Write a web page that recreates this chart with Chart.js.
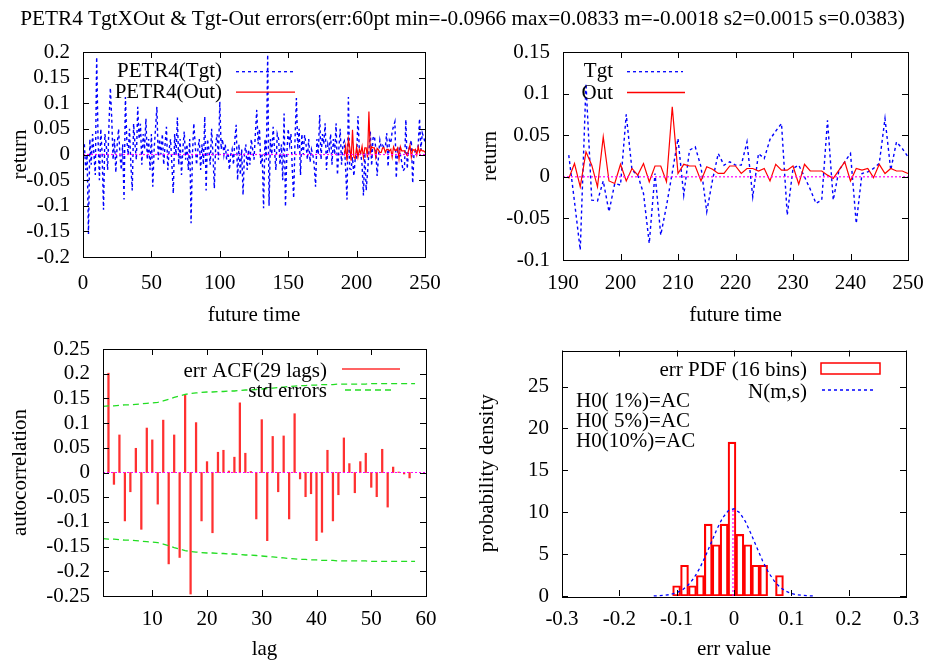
<!DOCTYPE html>
<html><head><meta charset="utf-8">
<script src="https://cdn.jsdelivr.net/npm/chart.js@4.4.1/dist/chart.umd.min.js"></script>
<style>
html,body{margin:0;padding:0;background:#fff;}
body{width:925px;height:660px;position:relative;overflow:hidden;font-family:"Liberation Serif","Times New Roman",serif;}
#title{position:absolute;left:0;top:8px;width:925px;text-align:center;white-space:nowrap;line-height:1;z-index:5;}
#title span{font-size:20px;display:inline-block;}
canvas{position:absolute;}
</style></head><body>
<div id="title"><span id="tt"></span></div>
<canvas id="c1"></canvas><canvas id="c2"></canvas><canvas id="c3"></canvas><canvas id="c4"></canvas>
<script>
const mainTitle = "PETR4 TgtXOut & Tgt-Out errors(err:60pt min=-0.0966 max=0.0833 m=-0.0018 s2=0.0015 s=0.0383)";

// ---- top panels: target and output returns ----
const tgtStart = 1;
const tgt = [
 0.02,-0.03,0.0,-0.155,0.03,-0.02,0.04,0.0,-0.04,0.19,
 0.03,-0.05,0.05,0.0,-0.108,0.04,0.02,-0.03,0.06,0.13,
 0.07,-0.01,0.03,-0.035,0.02,0.05,0.0,-0.03,0.02,-0.088,
 0.112,0.03,0.0,0.05,-0.02,-0.07,0.06,0.02,-0.01,0.093,
 0.03,0.06,-0.02,0.04,0.01,0.07,-0.01,0.03,-0.03,0.04,
 -0.063,0.01,0.05,0.093,-0.01,0.03,0.0,0.04,-0.02,0.02,
 0.054,-0.03,0.01,0.03,-0.02,-0.076,0.04,0.0,0.072,-0.02,
 0.03,-0.04,0.01,0.045,-0.01,0.02,-0.03,0.03,-0.134,0.0,
 0.061,0.02,-0.02,0.01,0.03,-0.03,0.02,-0.02,0.074,-0.07,
 0.03,0.01,-0.02,0.05,0.0,-0.066,0.02,0.04,-0.01,0.103,
 0.01,0.03,0.0,0.02,-0.01,0.01,-0.03,0.0,0.01,-0.02,
 0.03,0.058,-0.05,0.02,-0.04,0.01,-0.079,0.0,0.02,-0.03,
 0.01,-0.02,0.03,0.01,-0.01,0.04,0.087,0.02,0.05,-0.02,
 0.0,-0.105,0.03,-0.01,0.195,-0.1,0.03,0.0,0.054,0.01,
 -0.03,0.04,0.03,-0.02,0.02,-0.05,0.08,-0.102,0.0,0.05,
 0.02,0.04,-0.03,-0.085,0.03,0.11,0.01,0.05,-0.04,0.04,
 0.0,0.038,0.02,-0.01,0.03,-0.015,0.01,0.0,-0.02,-0.063,
 0.03,0.0,0.077,-0.01,0.04,0.02,0.061,-0.03,0.02,0.01,
 0.04,-0.02,0.03,0.0,0.061,-0.04,0.01,0.05,-0.02,0.02,
 0.026,-0.03,-0.088,0.112,-0.028,-0.029,-0.005,-0.042,-0.008,-0.01,
 0.075,0.008,0.002,-0.02,-0.08,0.004,-0.07,-0.035,0.005,0.046,
 -0.022,0.032,0.036,0.012,-0.042,-0.004,0.028,0.014,0.018,0.014,
 0.014,0.042,-0.024,0.028,0.022,0.045,0.055,0.064,-0.046,0.01,
 0.014,0.0,-0.015,-0.032,-0.028,0.068,-0.028,0.008,0.018,0.028,
 -0.056,0.004,0.006,0.01,0.016,0.07,0.008,0.042,0.034,0.024
];
const outStart = 191;
const out = [
 -0.002,0.016,-0.012,0.030,0.014,-0.012,0.048,-0.005,-0.008,0.015,
 -0.005,0.010,0.002,0.016,-0.006,0.013,0.013,-0.006,0.084,0.004,
 0.015,0.013,0.013,-0.005,0.012,0.009,0.004,0.004,0.013,0.013,
 0.004,0.010,0.010,0.007,0.010,-0.005,0.015,0.008,0.008,0.013,
 -0.009,0.015,0.007,0.007,0.007,0.002,-0.002,0.008,0.018,-0.005,
 0.010,0.008,0.010,-0.001,0.015,0.004,0.010,0.007,0.007,0.004
];
const zeroSpanAll = [0, 250];
const zeroSpanRecent = [190, 250];
const xTicksAll = [0, 50, 100, 150, 200, 250];
const yTicksAll = [-0.2, -0.15, -0.1, -0.05, 0, 0.05, 0.1, 0.15, 0.2];
const xTicksRecent = [190, 200, 210, 220, 230, 240, 250];
const yTicksRecent = [-0.1, -0.05, 0, 0.05, 0.1, 0.15];

// ---- bottom-left: error autocorrelation ----
const acfStart = 2;
const acf = [
 0.201,-0.024,0.076,-0.098,-0.039,0.049,-0.115,0.090,0.066,-0.064,
 0.106,-0.185,0.076,-0.172,0.157,-0.246,0.101,-0.098,0.022,-0.122,
 0.041,0.045,0.003,0.031,0.141,0.039,0.002,-0.094,0.107,-0.138,
 0.073,-0.039,0.074,-0.094,0.119,-0.013,-0.049,-0.043,-0.138,-0.121,
 0.045,-0.098,-0.045,0.070,0.018,-0.041,0.022,0.039,-0.030,-0.049,
 0.047,-0.070,0.011,0.001,-0.003,-0.011
];
const seStart = 1;
const seUpper = [
 0.134,0.135,0.135,0.136,0.137,0.137,0.138,0.139,0.140,0.141,
 0.142,0.145,0.148,0.152,0.155,0.158,0.160,0.161,0.162,0.163,
 0.163,0.164,0.164,0.165,0.165,0.166,0.167,0.167,0.168,0.169,
 0.170,0.171,0.172,0.173,0.174,0.175,0.176,0.176,0.177,0.177,
 0.178,0.178,0.178,0.179,0.179,0.179,0.179,0.179,0.179,0.180,
 0.180,0.180,0.180,0.180,0.180,0.180,0.180,0.180
];
const seLower = [
 -0.134,-0.135,-0.135,-0.136,-0.137,-0.137,-0.138,-0.139,-0.140,-0.141,
 -0.142,-0.145,-0.148,-0.152,-0.155,-0.158,-0.160,-0.161,-0.162,-0.163,
 -0.163,-0.164,-0.164,-0.165,-0.165,-0.166,-0.167,-0.167,-0.168,-0.169,
 -0.170,-0.171,-0.172,-0.173,-0.174,-0.175,-0.176,-0.176,-0.177,-0.177,
 -0.178,-0.178,-0.178,-0.179,-0.179,-0.179,-0.179,-0.179,-0.179,-0.180,
 -0.180,-0.180,-0.180,-0.180,-0.180,-0.180,-0.180,-0.180
];
const acfZeroSpan = [1, 60];
const xTicksLag = [10, 20, 30, 40, 50, 60];
const yTicksAcf = [-0.25, -0.2, -0.15, -0.1, -0.05, 0, 0.05, 0.1, 0.15, 0.2, 0.25];

// ---- bottom-right: error histogram ----
const binCenters = [-0.1001,-0.0863,-0.0725,-0.0587,-0.0449,-0.0311,-0.0173,-0.0035,0.0103,0.0241,0.0379,0.0517,0.0655,0.0793];
const binDensity = [1.22,3.67,1.22,2.45,8.57,6.12,8.57,18.37,7.35,6.12,3.67,3.67,0,2.45];
const normX = [-0.14,-0.13,-0.12,-0.11,-0.10,-0.09,-0.08,-0.07,-0.06,-0.05,-0.04,-0.03,-0.02,-0.01,0.0,0.01,0.02,0.03,0.04,0.05,0.06,0.07,0.08,0.09,0.10,0.11,0.12,0.13,0.14];
const normY = [0.01,0.04,0.09,0.19,0.39,0.73,1.30,2.13,3.29,4.72,6.34,7.95,9.31,10.18,10.41,9.94,8.87,7.38,5.75,4.18,2.83,1.80,1.06,0.59,0.30,0.15,0.07,0.03,0.01];
const meanX = [-0.0018, -0.0018];
const meanY = [0, 10.41];
const xTicksErr = [-0.3, -0.2, -0.1, 0, 0.1, 0.2, 0.3];
const yTicksPdf = [0, 5, 10, 15, 20, 25];
const hypText = ["H0( 1%)=AC", "H0( 5%)=AC", "H0(10%)=AC"];

// ================= drawing =================
const FAMILY = "'Liberation Serif','Times New Roman',serif";
const FSIZE = 21;
const FONT = {family: FAMILY, size: FSIZE};
const FONT_CSS = FSIZE + "px " + FAMILY;

document.getElementById('tt').textContent = mainTitle;
(function fitTitle(){
  const s = document.getElementById('tt');
  const w = s.getBoundingClientRect().width;
  s.style.fontSize = (20 * 885 / w) + 'px';
})();

const pts = (xs, ys) => ys.map((y, i) => ({x: xs[i], y}));
const seq = (start, ys) => ys.map((y, i) => ({x: start + i, y}));
const fmt = v => String(+Number(v).toFixed(6));

function mkScale(o) {
  return {
    type: 'linear', position: o.pos, min: o.min, max: o.max, offset: false,
    grid: {display: false, drawTicks: false}, border: {display: false},
    ticks: {font: FONT, color: '#000', padding: o.tickPad, autoSkip: false, maxRotation: 0, minRotation: 0, callback: fmt},
    title: {display: true, text: o.title, font: {family: FAMILY, size: FSIZE, lineHeight: 1}, color: '#000', padding: o.titlePad},
    afterBuildTicks: s => { s.ticks = o.ticks.map(v => ({value: v})); },
    afterFit: s => { if (o.pos === 'left') s.width = o.size; else s.height = o.size; }
  };
}

const frame = {
  id: 'gpFrame',
  afterDatasetsDraw(chart) {
    const {ctx, chartArea: a, scales: {x, y}} = chart;
    const L = 6;
    ctx.save();
    ctx.strokeStyle = '#000'; ctx.lineWidth = 1;
    ctx.beginPath();
    x.ticks.forEach(t => { const p = Math.round(x.getPixelForValue(t.value)) + 0.5;
      ctx.moveTo(p, a.bottom); ctx.lineTo(p, a.bottom - L); ctx.moveTo(p, a.top); ctx.lineTo(p, a.top + L); });
    y.ticks.forEach(t => { const p = Math.round(y.getPixelForValue(t.value)) + 0.5;
      ctx.moveTo(a.left, p); ctx.lineTo(a.left + L, p); ctx.moveTo(a.right, p); ctx.lineTo(a.right - L, p); });
    ctx.stroke();
    ctx.strokeRect(Math.round(a.left) + 0.5, Math.round(a.top) + 0.5, Math.round(a.right - a.left), Math.round(a.bottom - a.top));
    ctx.restore();
  }
};

function keyPlugin(items) {
  return {
    id: 'gpKey',
    afterDraw(chart) {
      const {ctx, chartArea: a} = chart;
      ctx.save();
      ctx.font = FONT_CSS; ctx.fillStyle = '#000'; ctx.textBaseline = 'middle';
      items.forEach(it => {
        if (it.text) { ctx.textAlign = it.align || 'right'; ctx.fillText(it.text, a.left + it.tx, a.top + it.ty); }
        if (it.kind === 'line') {
          ctx.strokeStyle = it.color; ctx.lineWidth = it.width || 1.3; ctx.setLineDash(it.dash || []);
          ctx.beginPath(); ctx.moveTo(a.left + it.x1, a.top + it.ly); ctx.lineTo(a.left + it.x2, a.top + it.ly); ctx.stroke();
          ctx.setLineDash([]);
        } else if (it.kind === 'box') {
          ctx.strokeStyle = it.color; ctx.lineWidth = 1.5;
          ctx.strokeRect(a.left + it.x1, a.top + it.y1, it.x2 - it.x1, it.y2 - it.y1);
        }
      });
      ctx.restore();
    }
  };
}

function make(id, box, area, xs, ys, type, datasets, items) {
  const cv = document.getElementById(id);
  cv.width = box.w; cv.height = box.h;
  cv.style.left = box.x + 'px'; cv.style.top = box.y + 'px';
  cv.style.width = box.w + 'px'; cv.style.height = box.h + 'px';
  return new Chart(cv, {
    type, data: {datasets},
    options: {
      responsive: false, animation: false, devicePixelRatio: 1, events: [],
      layout: {padding: {left: 0, top: area.t - box.y, right: box.x + box.w - area.r, bottom: 0}},
      plugins: {legend: {display: false}, tooltip: {enabled: false}, title: {display: false}},
      scales: {
        x: mkScale(Object.assign({pos: 'bottom', size: box.y + box.h - area.b}, xs)),
        y: mkScale(Object.assign({pos: 'left', size: area.l - box.x}, ys))
      }
    },
    plugins: [frame, keyPlugin(items)]
  });
}

const BLUE = '#0000ff', RED = '#ff0000', MAG = '#ff00ff', GREEN = '#22dd22';
const lineDS = (data, color, dash, width, order) => ({type: 'scatter', data, showLine: true, borderColor: color, backgroundColor: color,
  borderWidth: width, borderDash: dash, pointRadius: 0, tension: 0, order, clip: 1});

// top-left
make('c1', {x: 0, y: 20, w: 462, h: 315}, {l: 83, t: 52, r: 425, b: 257},
  {min: 0, max: 250, ticks: xTicksAll, title: 'future time', tickPad: 13.4, titlePad: {top: 0, bottom: 9.5}},
  {min: -0.2, max: 0.2, ticks: yTicksAll, title: 'return', tickPad: 13, titlePad: {top: 9.5, bottom: 0}},
  'scatter', [
    lineDS(seq(tgtStart, tgt), BLUE, [3, 3], 1.4, 3),
    lineDS(seq(outStart, out), RED, [], 1.2, 2),
    lineDS(pts(zeroSpanAll, [0, 0]), MAG, [2, 2], 1.2, 1)
  ], [
    {text: 'PETR4(Tgt)', tx: 139, ty: 19.7, kind: 'line', x1: 153, x2: 210, ly: 19.7, color: BLUE, dash: [3, 3]},
    {text: 'PETR4(Out)', tx: 139, ty: 40.7, kind: 'line', x1: 153, x2: 212, ly: 40.2, color: RED}
  ]);

// top-right
make('c2', {x: 463, y: 20, w: 485, h: 315}, {l: 563, t: 52, r: 908, b: 260},
  {min: 190, max: 250, ticks: xTicksRecent, title: 'future time', tickPad: 10.4, titlePad: {top: 0, bottom: 9.5}},
  {min: -0.1, max: 0.15, ticks: yTicksRecent, title: 'return', tickPad: 13, titlePad: {top: 16.5, bottom: 0}},
  'scatter', [
    lineDS(seq(tgtStart, tgt).filter(p => p.x >= outStart), BLUE, [3, 3], 1.4, 3),
    lineDS(seq(outStart, out), RED, [], 1.2, 2),
    lineDS(pts(zeroSpanRecent, [0, 0]), MAG, [2, 2], 1.2, 1)
  ], [
    {text: 'Tgt', tx: 50, ty: 19.7, kind: 'line', x1: 64, x2: 120, ly: 19.7, color: BLUE, dash: [3, 3]},
    {text: 'Out', tx: 50, ty: 41, kind: 'line', x1: 64, x2: 122, ly: 40.5, color: RED}
  ]);

// bottom-left
make('c3', {x: 0, y: 317, w: 462, h: 343}, {l: 103, t: 349, r: 426, b: 596},
  {min: 1, max: 60, ticks: xTicksLag, title: 'lag', tickPad: 11, titlePad: {top: 0, bottom: 0.5}},
  {min: -0.25, max: 0.25, ticks: yTicksAcf, title: 'autocorrelation', tickPad: 13, titlePad: {top: 9.5, bottom: 0}},
  'bar', [
    {type: 'bar', data: seq(acfStart, acf), backgroundColor: '#ff3030', borderWidth: 0, barThickness: 1.6, grouped: false, order: 3},
    lineDS(seq(seStart, seUpper), GREEN, [6, 4], 1.3, 2),
    lineDS(seq(seStart, seLower), GREEN, [6, 4], 1.3, 2),
    lineDS(pts(acfZeroSpan, [0, 0]), MAG, [2, 2], 1.2, 1)
  ], [
    {text: 'err ACF(29 lags)', tx: 224, ty: 22, kind: 'line', x1: 239, x2: 297, ly: 20, color: '#ff3030', width: 1.6},
    {text: 'std errors', tx: 224, ty: 42.7, kind: 'line', x1: 242, x2: 292, ly: 41, color: GREEN, dash: [6, 4]}
  ]);

// bottom-right
make('c4', {x: 463, y: 317, w: 485, h: 343}, {l: 562, t: 350.5, r: 906, b: 596},
  {min: -0.3, max: 0.3, ticks: xTicksErr, title: 'err value', tickPad: 11, titlePad: {top: 0, bottom: 0.5}},
  {min: 0, max: 29.3, ticks: yTicksPdf, title: 'probability density', tickPad: 13, titlePad: {top: 13.5, bottom: 0}},
  'bar', [
    {type: 'bar', data: pts(binCenters, binDensity), backgroundColor: 'rgba(255,255,255,0)', borderColor: RED, borderWidth: 1.5,
     borderSkipped: false, barPercentage: 1, categoryPercentage: 1, grouped: false, order: 3},
    lineDS(pts(normX, normY), BLUE, [3, 3], 1.3, 2),
    lineDS(pts(meanX, meanY), MAG, [2, 2], 1.2, 1)
  ], [
    {text: 'err PDF (16 bins)', tx: 245, ty: 19.5, kind: 'box', x1: 259, x2: 318, y1: 12.5, y2: 23.5, color: RED},
    {text: 'N(m,s)', tx: 245, ty: 41.5, kind: 'line', x1: 260, x2: 313, ly: 39.5, color: BLUE, dash: [3, 3]},
    {text: hypText[0], tx: 14, ty: 51, align: 'left'},
    {text: hypText[1], tx: 14, ty: 71, align: 'left'},
    {text: hypText[2], tx: 14, ty: 91, align: 'left'}
  ]);
</script>
</body></html>
